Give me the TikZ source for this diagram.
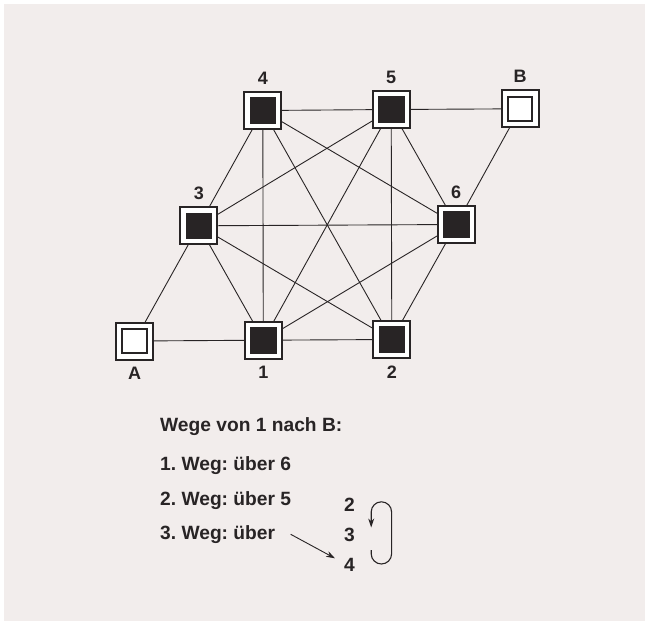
\documentclass[tikz,border=0pt]{standalone}
\usepackage{fontspec}
\setmainfont{Liberation Sans}
\frenchspacing
\usetikzlibrary{arrows.meta}
\definecolor{bgc}{RGB}{242,237,236}
\definecolor{ink}{RGB}{40,36,37}
\tikzset{
  every picture/.style={x=1pt,y=-1pt},
  box/.style={draw=ink,line width=2pt,fill=white,minimum size=37pt,inner sep=0pt,outer sep=0.6pt},
  full/.style={box,path picture={\fill[ink] ([xshift=-13.3pt,yshift=-13.3pt]path picture bounding box.center) rectangle ++(26.6pt,26.6pt);}},
  empty/.style={box,path picture={\draw[ink,line width=2pt] ([xshift=-12.3pt,yshift=-12.3pt]path picture bounding box.center) rectangle ++(24.6pt,24.6pt);}},
  edge/.style={draw=ink,line width=0.9pt},
  txt/.style={anchor=base west,inner sep=0pt,text=ink,font=\fontsize{19.2}{19.2}\selectfont\bfseries},
  num/.style={anchor=base,inner sep=0pt,text=ink,font=\fontsize{19.2}{19.2}\selectfont\bfseries},
  lab/.style={text=ink,inner sep=0pt,font=\fontsize{18}{18}\selectfont\bfseries}
}
\begin{document}
\begin{tikzpicture}
\useasboundingbox (0,0) rectangle (645,621);
\fill[white] (0,0) rectangle (645,621);
\fill[bgc] (4,4) rectangle (645,621);
% nodes
\node[full] (n4) at (262.8,110.5) {};
\node[full] (n5) at (391.2,109.5) {};
\node[empty] (nB) at (520,108.8) {};
\node[full] (n3) at (198.8,225.8) {};
\node[full] (n6) at (456.2,224.5) {};
\node[empty] (nA) at (134.6,341) {};
\node[full] (n1) at (263.3,340.2) {};
\node[full] (n2) at (391.8,339.5) {};
% labels
\node[lab,anchor=south] (l4) at ([yshift=7pt]n4.north) {4};
\node[lab,anchor=south] (l5) at ([yshift=7pt]n5.north) {5};
\node[lab,anchor=south] (lB) at ([yshift=7pt]nB.north) {B};
\node[lab,anchor=south] (l3) at ([yshift=7pt]n3.north) {3};
\node[lab,anchor=south] (l6) at ([yshift=7pt]n6.north) {6};
\node[lab,anchor=north] (lA) at ([yshift=-7pt]nA.south) {A};
\node[lab,anchor=north] (l1) at ([yshift=-7pt]n1.south) {1};
\node[lab,anchor=north] (l2) at ([yshift=-7pt]n2.south) {2};
% edges
\foreach \a/\b in {nA/n3,nA/n1,n1/n2,n1/n3,n1/n4,n1/n5,n1/n6,n2/n3,n2/n4,n2/n5,n2/n6,n3/n4,n3/n5,n3/n6,n4/n5,n4/n6,n5/n6,n5/nB,n6/nB}
  \draw[edge] (\a) -- (\b);
% text
\node[txt] (t0) at (160,431.7) {Wege von 1 nach B:};
\node[txt] (t1) at (160,470.7) {1. Weg: über 6};
\node[txt] (t2) at (160,505.2) {2. Weg: über 5};
\node[txt] (t3) at (160,539.5) {3. Weg: über};
\node[num] (d2) at (349.5,511.7) {2};
\node[num] (d3) at (349.5,541.2) {3};
\node[num] (d4) at (349.5,571.7) {4};
\coordinate (as) at (290.7,534.3);
\coordinate (ae) at (335,558.3);
\draw[ink,line width=0.9pt,-{Stealth[length=9pt,width=6pt]}] (as) -- (ae);
\coordinate (ls) at (371.2,550);
\coordinate (le) at (371.2,527.5);
\draw[ink,line width=1.1pt,-{Stealth[length=9pt,width=6pt]}] (ls) -- (371.2,553.8) arc[start angle=180,end angle=0,radius=10.2] -- (391.6,512) arc[start angle=0,end angle=-180,radius=10.2] -- (le);
\end{tikzpicture}
\end{document}
